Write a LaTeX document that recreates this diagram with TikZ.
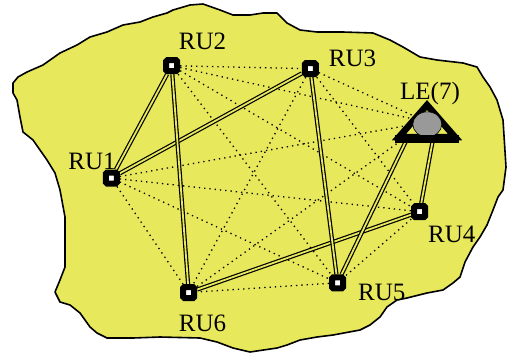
\documentclass[tikz,border=0pt]{standalone}
\usepackage{fontspec}
\setmainfont{Liberation Serif}
\pgfdeclarelayer{blob}
\pgfdeclarelayer{edges}
\pgfsetlayers{blob,edges,main}
\definecolor{blobc}{RGB}{232,232,92}
\definecolor{grayc}{RGB}{153,153,153}
\begin{document}
\begin{tikzpicture}[x=1pt,y=-1pt,
  ru/.style={draw=black, line width=6pt, fill=white, minimum size=11pt, inner sep=0pt, rounded corners=1.2pt},
  lbl/.style={anchor=base, inner sep=0pt, font=\fontsize{25}{30}\selectfont},
  link/.style={draw=black, line width=1.2pt, double=blobc, double distance=1.8pt},
  dots/.style={draw=black, line width=1.3pt, dash pattern=on 1.3pt off 4pt}]
\useasboundingbox (0,0) rectangle (510,354);

\begin{pgfonlayer}{blob}
\filldraw[fill=blobc, draw=black, line width=1.6pt, line join=round]
 (13,83) -- (18,77) -- (27,72) -- (43,65) -- (60,53) -- (77,45) -- (90,37) -- (107,32)
 -- (123,25) -- (140,22) -- (153,17) -- (167,13) -- (173,10) -- (190,5) -- (203,4)
 -- (220,10) -- (233,15) -- (250,15) -- (263,13) -- (277,13) -- (287,23) -- (300,30)
 -- (317,32) -- (343,32) -- (373,33) -- (390,40) -- (403,47) -- (420,57) -- (437,60)
 -- (463,63) -- (477,67) -- (483,77) -- (490,87) -- (497,100) -- (503,120) -- (506,167)
 -- (503,190) -- (498,197) -- (493,210) -- (487,225) -- (480,237) -- (473,247)
 -- (465,262) -- (460,277) -- (453,283) -- (443,290) -- (427,293) -- (407,298)
 -- (397,300) -- (387,307) -- (380,317) -- (370,325) -- (360,330) -- (333,335)
 -- (317,337) -- (300,340) -- (287,345) -- (277,348) -- (250,352) -- (233,348)
 -- (217,342) -- (200,338) -- (160,337) -- (133,338) -- (107,338) -- (97,333)
 -- (90,327) -- (80,313) -- (70,305) -- (60,302) -- (55,292) -- (60,280) -- (65,267)
 -- (65,217) -- (60,190) -- (55,173) -- (47,160) -- (33,140) -- (23,132) -- (20,117)
 -- (17,100) -- (13,93) -- cycle;
\end{pgfonlayer}

% nodes
\node[ru] (RU1) at (111.3,178) {};
\node[ru] (RU2) at (171.7,65.7) {};
\node[ru] (RU3) at (310.3,68.7) {};
\node[ru] (RU4) at (419.7,211.7) {};
\node[ru] (RU5) at (337.5,282.8) {};
\node[ru] (RU6) at (188.7,292.5) {};
\coordinate (LE) at (427,122);
\coordinate (LEa) at (407,139);
\coordinate (LEb) at (433,139);

% LE symbol
\filldraw[fill=blobc, draw=black, line width=6.5pt, line join=miter]
  (427,105) -- (455,137) -- (399,137) -- cycle;
\filldraw[fill=grayc, draw=black, line width=0.6pt] (427.3,124.3) ellipse [x radius=14.5, y radius=12.5];
\fill[black] (395,134.5) rectangle (459,143);

% labels
\node[lbl] (lRU1) at (92,169.5) {RU1};
\node[lbl] (lRU2) at (202.5,49.3) {RU2};
\node[lbl] (lRU3) at (352.5,66.7) {RU3};
\node[lbl] (lLE) at (430,99.3) {LE(7)};
\node[lbl] (lRU4) at (451.7,242.7) {RU4};
\node[lbl] (lRU5) at (381.7,300.7) {RU5};
\node[lbl] (lRU6) at (202.5,331.7) {RU6};

\begin{pgfonlayer}{edges}
% dotted links
\draw[dots] (RU1) -- (RU4);
\draw[dots] (RU1) -- (RU5);
\draw[dots] (RU1) -- (RU6);
\draw[dots] (RU1) -- (LE);
\draw[dots] (RU2) -- (RU3);
\draw[dots] (RU2) -- (RU4);
\draw[dots] (RU2) -- (RU5);
\draw[dots] (RU2) -- (LE);
\draw[dots] (RU3) -- (RU4);
\draw[dots] (RU3) -- (RU6);
\draw[dots] (RU3) -- (LE);
\draw[dots] (RU4) -- (RU5);
\draw[dots] (RU5) -- (RU6);
\draw[dots] (RU6) -- (LE);
% double links
\draw[link] (RU1) -- (RU2);
\draw[link] (RU1) -- (RU3);
\draw[link] (RU2) -- (RU6);
\draw[link] (RU6) -- (RU4);
\draw[link] (RU3) -- (RU5);
\draw[link] (LEa) -- (RU5);
\draw[link] (LEb) -- (RU4);
\end{pgfonlayer}
\end{tikzpicture}
\end{document}
